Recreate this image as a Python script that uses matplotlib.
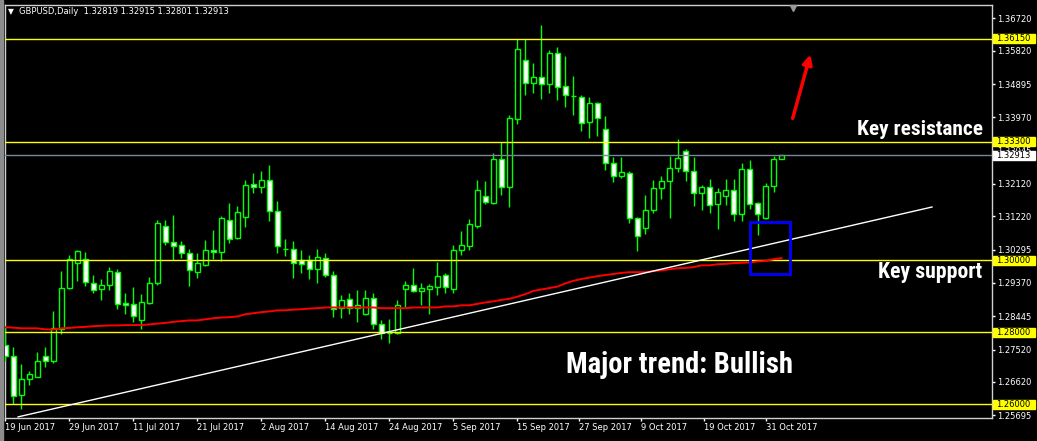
import matplotlib
matplotlib.use("Agg")
import matplotlib.pyplot as plt
from matplotlib import font_manager as fm
from matplotlib.patches import Rectangle
from matplotlib.transforms import blended_transform_factory
import numpy as np

# GBPUSD daily candles, 19 Jun 2017 -> 1 Nov 2017
opens = [1.2765, 1.2735, 1.2627, 1.2670, 1.2677, 1.2734, 1.2721, 1.2810, 1.2922, 1.2992,
         1.3003, 1.2938, 1.2919, 1.2931, 1.2967, 1.2881, 1.2878, 1.2835, 1.2881, 1.2938,
         1.3094, 1.3050, 1.3042, 1.3019, 1.2968, 1.2988, 1.3029, 1.3022, 1.3111, 1.3061,
         1.3121, 1.3212, 1.3203, 1.3222, 1.3136, 1.3032, 1.3031, 1.3000, 1.3000, 1.2975,
         1.3006, 1.2958, 1.2868, 1.2892, 1.2867, 1.2852, 1.2894, 1.2822, 1.2798, 1.2799,
         1.2921, 1.2931, 1.2916, 1.2921, 1.2927, 1.2958, 1.2921, 1.3028, 1.3041, 1.3096,
         1.3178, 1.3160, 1.3281, 1.3204, 1.3393, 1.3556, 1.3492, 1.3508, 1.3489, 1.3575,
         1.3483, 1.3457, 1.3453, 1.3383, 1.3436, 1.3364, 1.3269, 1.3233, 1.3242, 1.3117,
         1.3089, 1.3139, 1.3200, 1.3219, 1.3256, 1.3303, 1.3247, 1.3186, 1.3203, 1.3156,
         1.3178, 1.3194, 1.3128, 1.3253, 1.3158, 1.3117, 1.3206, 1.32819]
highs = [1.2815, 1.2759, 1.2712, 1.2692, 1.2745, 1.2759, 1.2858, 1.2970, 1.3015, 1.3029,
         1.3023, 1.2958, 1.2948, 1.2981, 1.2976, 1.2908, 1.2926, 1.2906, 1.2954, 1.3112,
         1.3112, 1.3125, 1.3054, 1.3031, 1.3019, 1.3056, 1.3084, 1.3123, 1.3158, 1.3151,
         1.3223, 1.3243, 1.3248, 1.3265, 1.3165, 1.3059, 1.3054, 1.3029, 1.3014, 1.3031,
         1.3019, 1.2969, 1.2904, 1.2908, 1.2917, 1.2917, 1.2908, 1.2833, 1.2837, 1.2890,
         1.2943, 1.2979, 1.2937, 1.2934, 1.2995, 1.2964, 1.3042, 1.3081, 1.3115, 1.3223,
         1.3219, 1.3297, 1.3328, 1.3403, 1.3614, 1.3614, 1.3547, 1.3654, 1.3583, 1.3592,
         1.3568, 1.3512, 1.3458, 1.3453, 1.3441, 1.3400, 1.3288, 1.3288, 1.3248, 1.3121,
         1.3181, 1.3222, 1.3233, 1.3289, 1.3337, 1.3308, 1.3288, 1.3208, 1.3225, 1.3200,
         1.3225, 1.3225, 1.3269, 1.3278, 1.3161, 1.3214, 1.3289, 1.32915]
lows = [1.2720, 1.2601, 1.2588, 1.2654, 1.2675, 1.2704, 1.2716, 1.2794, 1.2920, 1.2943,
        1.2929, 1.2910, 1.2890, 1.2918, 1.2865, 1.2852, 1.2829, 1.2810, 1.2879, 1.2931,
        1.3043, 1.3001, 1.3007, 1.2929, 1.2951, 1.2983, 1.3004, 1.2999, 1.3049, 1.3059,
        1.3093, 1.3188, 1.3188, 1.3110, 1.3021, 1.3013, 1.2952, 1.2966, 1.2948, 1.2938,
        1.2954, 1.2843, 1.2841, 1.2852, 1.2829, 1.2849, 1.2808, 1.2781, 1.2771, 1.2794,
        1.2869, 1.2913, 1.2876, 1.2852, 1.2904, 1.2910, 1.2908, 1.3016, 1.3029, 1.3091,
        1.3157, 1.3157, 1.3182, 1.3149, 1.3378, 1.3460, 1.3466, 1.3449, 1.3466, 1.3446,
        1.3427, 1.3404, 1.3360, 1.3339, 1.3346, 1.3252, 1.3218, 1.3229, 1.3104, 1.3025,
        1.3072, 1.3131, 1.3171, 1.3118, 1.3244, 1.3221, 1.3152, 1.3139, 1.3131, 1.3086,
        1.3154, 1.3110, 1.3108, 1.3143, 1.3069, 1.3114, 1.3189, 1.32801]
closes = [1.2734, 1.2624, 1.2670, 1.2684, 1.2719, 1.2719, 1.2811, 1.2922, 1.3003, 1.3025,
          1.2939, 1.2917, 1.2931, 1.2969, 1.2878, 1.2875, 1.2844, 1.2883, 1.2936, 1.3103,
          1.3050, 1.3039, 1.3019, 1.2972, 1.2992, 1.3029, 1.3022, 1.3117, 1.3060, 1.3133,
          1.3208, 1.3204, 1.3222, 1.3136, 1.3039, 1.3031, 1.2992, 1.2989, 1.2975, 1.3008,
          1.2960, 1.2864, 1.2889, 1.2867, 1.2875, 1.2894, 1.2822, 1.2797, 1.2799, 1.2875,
          1.2931, 1.2916, 1.2922, 1.2928, 1.2956, 1.2927, 1.3028, 1.3042, 1.3100, 1.3194,
          1.3161, 1.3281, 1.3204, 1.3394, 1.3586, 1.3492, 1.3508, 1.3489, 1.3575, 1.3481,
          1.3458, 1.3456, 1.3381, 1.3436, 1.3394, 1.3269, 1.3233, 1.3244, 1.3117, 1.3067,
          1.3139, 1.3200, 1.3219, 1.3256, 1.3283, 1.3247, 1.3186, 1.3203, 1.3153, 1.3189,
          1.3194, 1.3128, 1.3253, 1.3156, 1.3128, 1.3206, 1.3281, 1.32913]
# red moving average
ma = [1.2814, 1.2813, 1.2811, 1.2811, 1.2811, 1.2808, 1.2808, 1.2811, 1.2812, 1.2814,
      1.2815, 1.2817, 1.2818, 1.2819, 1.2819, 1.2820, 1.2820, 1.2820, 1.2822, 1.2824,
      1.2826, 1.2829, 1.2831, 1.2833, 1.2833, 1.2836, 1.2839, 1.2841, 1.2842, 1.2844,
      1.2850, 1.2853, 1.2856, 1.2858, 1.2861, 1.2861, 1.2863, 1.2864, 1.2866, 1.2867,
      1.2869, 1.2869, 1.2869, 1.2869, 1.2869, 1.2869, 1.2869, 1.2867, 1.2867, 1.2867,
      1.2867, 1.2869, 1.2869, 1.2869, 1.2869, 1.2872, 1.2872, 1.2875, 1.2875, 1.2879,
      1.2883, 1.2886, 1.2890, 1.2893, 1.2899, 1.2906, 1.2915, 1.2919, 1.2923, 1.2927,
      1.2936, 1.2943, 1.2948, 1.2952, 1.2956, 1.2959, 1.2962, 1.2965, 1.2967, 1.2967,
      1.2967, 1.2970, 1.2972, 1.2975, 1.2978, 1.2979, 1.2981, 1.2986, 1.2986, 1.2989,
      1.2990, 1.2992, 1.2993, 1.2994, 1.2997, 1.2998, 1.3003, 1.3006]

levels = [1.36150, 1.33300, 1.30000, 1.28000, 1.26000]
last_price = 1.32913
price_ticks = [1.36720, 1.35820, 1.34895, 1.33970, 1.33045, 1.32120, 1.31220,
               1.30295, 1.29370, 1.28445, 1.27520, 1.26620, 1.25695]
date_pos = [0, 8, 16, 24, 32, 40, 48, 56, 64, 71.75, 79.5, 87.25, 95]
date_labels = ['19 Jun 2017', '29 Jun 2017', '11 Jul 2017', '21 Jul 2017', '2 Aug 2017',
               '14 Aug 2017', '24 Aug 2017', '5 Sep 2017', '15 Sep 2017', '27 Sep 2017',
               '9 Oct 2017', '19 Oct 2017', '31 Oct 2017']
trend_x = [1.6, 115.8]
trend_y = [1.2565, 1.3148]
box_x = [93.0, 98.1]
box_y = [1.2962, 1.3106]
arrow_tail = (98.3, 1.3387)
arrow_tip = (100.7, 1.3579)

GREEN = '#00ff00'
o = np.array(opens); h = np.array(highs); l = np.array(lows); c = np.array(closes)
x = np.arange(len(o))

fig = plt.figure(figsize=(10.37, 4.41), dpi=100, facecolor='black')
ax = fig.add_axes([4.5 / 1037, 23 / 441, 987.5 / 1037, 413.5 / 441], facecolor='black')
fig.patches.append(Rectangle((0, 0), 3 / 1037, 1, transform=fig.transFigure, color='#8c8c8c'))

# candles
ax.vlines(x, l, h, color=GREEN, lw=1, zorder=3)
body_lo = np.minimum(o, c)
body_h = np.maximum(np.abs(c - o), 0.00006)
fills = ['black' if cc >= oo else 'white' for oo, cc in zip(o, c)]
ax.bar(x, body_h, bottom=body_lo, width=0.58, color=fills, edgecolor=GREEN, lw=1, zorder=4)

# levels and price line
for lv in levels:
    ax.axhline(lv, color='#ffff00', lw=1, zorder=5)
ax.axhline(last_price, color='#778899', lw=1, zorder=5)

ax.plot(x, ma, color='red', lw=1.4, zorder=6)
ax.plot(trend_x, trend_y, color='white', lw=1, zorder=6)
ax.add_patch(Rectangle((box_x[0], box_y[0]), box_x[1] - box_x[0], box_y[1] - box_y[0],
                       fill=False, edgecolor='#0000ff', lw=2, zorder=7))
ax.annotate('', xy=arrow_tip, xytext=arrow_tail,
            arrowprops=dict(arrowstyle='-|>', color='#ff0000', lw=2.5, mutation_scale=14), zorder=7)

# narrow bold font for the notes, if one is installed
names = {f.name for f in fm.fontManager.ttflist}
narrow = next((n for n in ['Liberation Sans Narrow', 'Roboto Condensed', 'Open Sans Condensed',
                           'DejaVu Sans Condensed'] if n in names), None)
note_font = dict(family=narrow) if narrow else dict(family='DejaVu Sans', stretch='condensed')

notes = [(114.3, 1.3362, 'Key resistance', 126),
         (115.6, 1.2968, 'Key support', 104),
         (84.2, 1.2709, 'Major trend: Bullish', 226)]
renderer = fig.canvas.get_renderer()
for nx, ny, txt, w in notes:
    t = ax.text(nx, ny, txt, color='white', fontsize=16, fontweight='bold',
                ha='center', va='center', zorder=8, **note_font)
    t.set_fontsize(16 * w / t.get_window_extent(renderer).width)

ax.set_xlim(-0.1, 123.3)
ax.set_ylim(1.25619, 1.37106)

for sp in ax.spines.values():
    sp.set_color('#d0d0d0')
    sp.set_linewidth(1)

ax.yaxis.tick_right()
ax.set_yticks(price_ticks)
ax.set_yticklabels([f'{v:.5f}' for v in price_ticks])
ax.tick_params(axis='y', colors='white', length=2, width=1, labelsize=6, pad=1.5)
ax.set_xticks(date_pos)
ax.set_xticklabels(date_labels)
ax.tick_params(axis='x', colors='white', length=2.5, width=1, labelsize=6, pad=0.8)
for lbl in ax.get_xticklabels():
    lbl.set_ha('left')

# price tags on the right scale
trans = blended_transform_factory(ax.transAxes, ax.transData)
for lv in levels:
    ax.add_patch(Rectangle((1.0015, lv - 0.00125), 0.0425, 0.0025, transform=trans,
                           color='#ffff00', clip_on=False, zorder=9))
    ax.text(1.0045, lv, f'{lv:.5f}', transform=trans, color='black', fontsize=6,
            va='center', ha='left', clip_on=False, zorder=10)
ax.add_patch(Rectangle((1.0015, last_price - 0.00125), 0.0425, 0.0025, transform=trans,
                       color='white', clip_on=False, zorder=9))
ax.text(1.0045, last_price, f'{last_price:.5f}', transform=trans, color='black', fontsize=6,
        va='center', ha='left', clip_on=False, zorder=10)

# chart shift marker
ax.plot([0.7985], [0.992], marker='v', color='#9a9a9a', ms=5, transform=ax.transAxes,
        clip_on=False, zorder=9)

fig.text(8 / 1037, 1 - 12 / 441, '\u25bc', color='white', fontsize=5.5, va='center')
fig.text(19 / 1037, 1 - 12 / 441, 'GBPUSD,Daily  1.32819 1.32915 1.32801 1.32913',
         color='white', fontsize=6, va='center')

fig.savefig('out.png', dpi=100, facecolor='black')
